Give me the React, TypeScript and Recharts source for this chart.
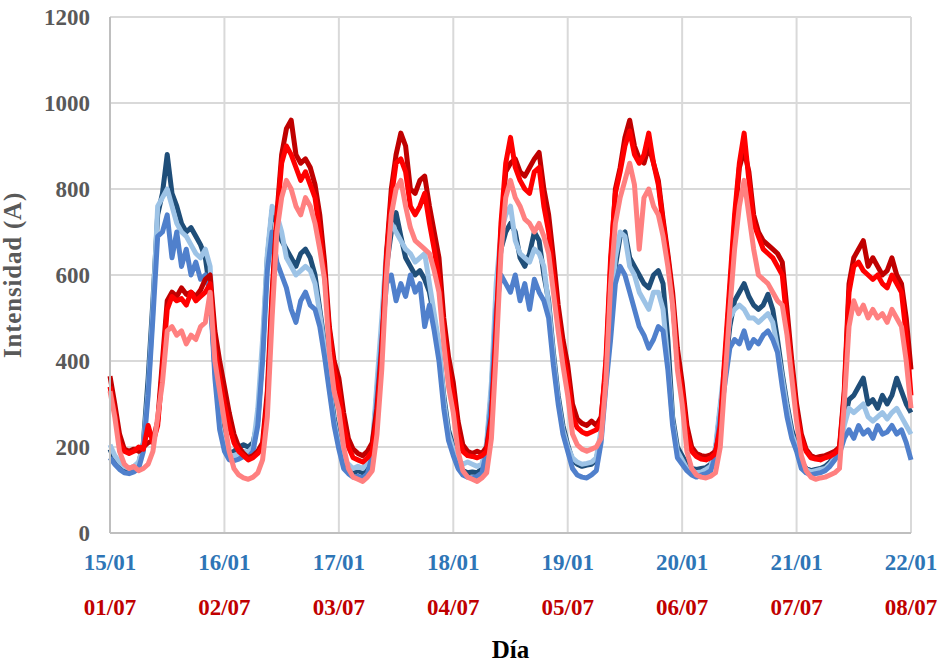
import { LineChart, Line, XAxis, YAxis, CartesianGrid } from "recharts";

// hours since 00:00 of the first day, one value per hour (7 days + closing point)
const dayTicks = [0, 24, 48, 72, 96, 120, 144, 168];
const winterDays = ["15/01", "16/01", "17/01", "18/01", "19/01", "20/01", "21/01", "22/01"];
const summerDays = ["01/07", "02/07", "03/07", "04/07", "05/07", "06/07", "07/07", "08/07"];
const yTicks = [0, 200, 400, 600, 800, 1000, 1200];

// winter week (blues)
const darkBlue = [
  195, 170, 160, 150, 148, 150, 160, 210, 360, 540, 740, 790, 880, 790, 760, 720, 700, 710, 690, 670, 640, 560, 380, 260,
  210, 185, 190, 200, 205, 200, 210, 260, 420, 640, 750, 720, 680, 660, 640, 620, 650, 660, 640, 600, 520, 440, 350, 270,
  210, 165, 150, 140, 145, 140, 150, 190, 330, 470, 620, 700, 745, 690, 640, 620, 600, 610, 590, 560, 500, 430, 320, 240,
  200, 160, 145, 140, 142, 140, 150, 200, 330, 540, 660, 700, 720, 700, 640, 620, 650, 700, 680, 600, 540, 420, 320, 250,
  205, 170, 160, 155, 158, 160, 170, 230, 370, 480, 620, 690, 700, 640, 620, 600, 580, 570, 600, 610, 580, 450, 270, 200,
  180, 160, 150, 148, 150, 152, 160, 190, 290, 380, 480, 540, 560, 580, 550, 530, 520, 530, 555, 520, 450, 370, 300, 240,
  205, 165, 150, 145, 148, 150, 155, 165, 180, 200, 260, 310, 320, 340, 360, 300, 310, 290, 320, 300, 320, 360, 330, 300,
  280,
];
const lightBlue = [
  205, 180, 165, 155, 150, 155, 165, 205, 330, 520, 760, 780, 800, 760, 720, 700, 690, 670, 650, 640, 660, 620, 390, 250,
  200, 180, 180, 185, 190, 188, 200, 290, 450, 650, 760, 740, 700, 640, 620, 600, 610, 620, 610, 580, 510, 430, 340, 260,
  205, 170, 160, 150, 155, 150, 165, 200, 350, 500, 660, 720, 700, 680, 660, 650, 630, 640, 650, 580, 510, 440, 310, 230,
  195, 170, 160, 165, 160, 155, 160, 210, 350, 580, 700, 740, 760, 680, 650, 640, 630, 660, 650, 620, 530, 410, 310, 240,
  200, 175, 165, 160, 162, 165, 175, 240, 400, 520, 640, 700, 690, 620, 600, 560, 540, 520, 560, 560, 520, 400, 260, 190,
  170, 150, 145, 140, 142, 148, 155, 200, 300, 400, 500, 520, 530, 520, 500, 500, 490, 500, 510, 490, 430, 360, 290, 230,
  200, 160, 148, 142, 145, 148, 150, 160, 175, 195, 250, 290, 280, 290, 300, 270, 260, 270, 280, 265, 280, 290, 270, 250,
  230,
];
const midBlue = [
  175, 160, 148, 140, 138, 142, 150, 190, 320, 500, 690, 700, 740, 640, 700, 620, 660, 600, 630, 590, 600, 560, 360, 240,
  190, 170, 168, 172, 178, 175, 190, 250, 400, 610, 700, 630, 600, 570, 520, 490, 540, 560, 530, 520, 480, 410, 330, 250,
  195, 150, 138, 130, 132, 128, 138, 180, 310, 450, 580, 600, 540, 580, 550, 600, 560, 580, 480, 530, 470, 400, 290, 215,
  180, 150, 135, 130, 128, 132, 140, 190, 310, 520, 600, 580, 560, 600, 540, 580, 520, 590, 560, 540, 500, 390, 300, 230,
  190, 150, 135, 130, 128, 135, 145, 210, 340, 450, 580, 620, 600, 560, 520, 480, 460, 430, 450, 480, 470, 380, 250, 175,
  160, 145, 135, 130, 135, 138, 145, 180, 270, 350, 430, 450, 440, 470, 430, 450, 440, 460, 470, 450, 420, 340, 270, 220,
  190, 150, 140, 135, 138, 140, 145, 155, 170, 185, 220, 240, 220, 250, 230, 240, 220, 250, 230, 235, 250, 230, 240, 210,
  170,
];

// summer week (reds)
const darkRed = [
  365, 300, 230, 195, 190, 195, 190, 200, 210, 215, 260, 400, 540, 560, 550, 570, 555, 560, 550, 565, 590, 600, 470, 400,
  340, 280, 230, 200, 185, 175, 180, 190, 210, 330, 560, 740, 880, 940, 960, 880, 860, 870, 850, 810, 740, 630, 480, 400,
  360, 280, 220, 195, 185, 180, 190, 210, 290, 430, 650, 800, 880, 930, 900, 800, 790, 820, 830, 760, 700, 640, 500, 410,
  350, 260, 205, 190, 185, 190, 185, 200, 270, 460, 700, 840, 860, 870, 840, 830, 850, 870, 885, 800, 740, 640, 530, 450,
  390, 300, 265, 255, 250, 260, 250, 270, 380, 620, 800, 850, 920, 960, 900, 870, 860, 900, 860, 820, 730, 650, 560, 430,
  350, 250, 200, 185, 180, 178, 182, 190, 240, 400, 560, 720, 850, 890, 840, 740, 700, 680, 670, 660, 650, 630, 520, 400,
  300, 230, 195, 180, 175, 178, 180, 185, 190, 200, 330, 580, 640, 660, 680, 620, 640, 620, 600, 610, 640, 600, 580, 500,
  380,
];
const red = [
  340, 280, 210, 190, 185, 190, 200, 195, 250, 210, 250, 380, 520, 550, 540, 545, 530, 560, 540, 550, 560, 580, 430, 360,
  300, 250, 210, 190, 180, 170, 175, 185, 200, 310, 540, 730, 860, 900, 880, 850, 820, 840, 810, 780, 700, 600, 470, 380,
  330, 250, 200, 175, 170, 165, 175, 190, 270, 420, 640, 780, 860, 870, 840, 760, 740, 760, 790, 720, 660, 590, 470, 380,
  320, 230, 190, 180, 178, 175, 180, 190, 260, 480, 720, 860, 920, 850, 820, 800, 790, 840, 850, 760, 700, 600, 500, 420,
  360, 270, 245, 235, 230, 235, 240, 260, 400, 640, 790, 840, 900, 935, 880, 860, 880, 930, 860, 810, 720, 640, 540, 400,
  330, 230, 190, 178, 172, 170, 175, 185, 250, 420, 580, 740, 860, 930, 820, 720, 690, 660, 650, 640, 620, 600, 490, 380,
  280, 220, 190, 175, 172, 170, 175, 178, 185, 195, 320, 560, 620, 630, 610, 600, 590, 600, 580, 570, 600, 580, 560, 460,
  320,
];
const pink = [
  330, 270, 190, 160, 150, 155, 145, 150, 160, 190, 270, 350, 470, 480, 460, 470, 440, 460, 450, 480, 490, 560, 400, 330,
  260, 190, 150, 135, 128, 125, 130, 140, 170, 270, 500, 700, 780, 820, 800, 760, 740, 780, 760, 720, 660, 590, 420, 330,
  285, 200, 150, 130, 125, 120, 130, 145, 230, 380, 600, 740, 800, 820, 760, 710, 680, 670, 660, 650, 610, 560, 440, 340,
  280, 190, 145, 130, 125, 120, 128, 140, 220, 420, 650, 780, 820, 780, 760, 730, 720, 700, 720, 690, 650, 560, 470, 390,
  320, 230, 205, 195, 190, 195, 200, 220, 350, 580, 720, 780, 820, 860, 810, 660, 780, 800, 760, 740, 690, 620, 530, 380,
  300, 190, 150, 135, 130, 128, 132, 140, 200, 360, 520, 660, 760, 820, 740, 660, 600, 590, 580, 560, 540, 530, 460, 360,
  260, 180, 145, 130, 125, 128, 130, 135, 140, 150, 300, 480, 540, 510, 530, 500, 520, 500, 510, 490, 520, 500, 480, 400,
  290,
];

const data = darkBlue.map((v, i) => ({
  h: i,
  db: v,
  lb: lightBlue[i],
  mb: midBlue[i],
  dr: darkRed[i],
  r: red[i],
  p: pink[i],
}));

const font = "'Liberation Serif', 'Times New Roman', serif";

function DayTick(props: any) {
  const { x, y, payload } = props;
  const idx = dayTicks.indexOf(payload.value);
  return (
    <g>
      <text x={x} y={y + 37} textAnchor="middle" fill="#2e75b6" fontFamily={font} fontWeight="bold" fontSize={23}>
        {winterDays[idx]}
      </text>
      <text x={x} y={y + 82} textAnchor="middle" fill="#c00000" fontFamily={font} fontWeight="bold" fontSize={23}>
        {summerDays[idx]}
      </text>
    </g>
  );
}

const series = [
  { key: "db", color: "#1f4e79" },
  { key: "lb", color: "#9dc3e6" },
  { key: "mb", color: "#5080cc" },
  { key: "dr", color: "#c00000" },
  { key: "r", color: "#ff0000" },
  { key: "p", color: "#ff8080" },
];

export default function App() {
  return (
    <div style={{ position: "absolute", left: 0, top: 0, width: 943, height: 665, background: "#fff" }}>
      <LineChart width={943} height={665} data={data} margin={{ top: 17, right: 32, bottom: 0, left: 0 }}>
        <CartesianGrid stroke="#d9d9d9" strokeWidth={2} />
        <XAxis
          dataKey="h"
          type="number"
          domain={[0, 168]}
          ticks={dayTicks}
          height={132}
          tickLine={false}
          tickSize={0}
          tickMargin={0}
          axisLine={{ stroke: "#bfbfbf", strokeWidth: 2 }}
          tick={<DayTick />}
          interval={0}
          label={{
            value: "Día",
            position: "insideBottom",
            offset: 7,
            fill: "#000",
            fontFamily: font,
            fontWeight: "bold",
            fontSize: 25,
          }}
        />
        <YAxis
          domain={[0, 1200]}
          ticks={yTicks}
          width={110}
          tickLine={false}
          tickSize={0}
          tickMargin={20}
          axisLine={{ stroke: "#bfbfbf", strokeWidth: 2 }}
          tick={{ fill: "#595959", fontFamily: font, fontWeight: "bold", fontSize: 23 }}
          label={{
            value: "Intensidad (A)",
            angle: -90,
            position: "insideLeft",
            offset: 12,
            fill: "#595959",
            fontFamily: font,
            fontWeight: "bold",
            fontSize: 25,
            letterSpacing: 0.8,
            style: { textAnchor: "middle" },
          }}
        />
        {series.map((s) => (
          <Line
            key={s.key}
            type="linear"
            dataKey={s.key}
            stroke={s.color}
            strokeWidth={5}
            strokeLinejoin="round"
            dot={false}
            activeDot={false}
            isAnimationActive={false}
          />
        ))}
      </LineChart>
    </div>
  );
}
